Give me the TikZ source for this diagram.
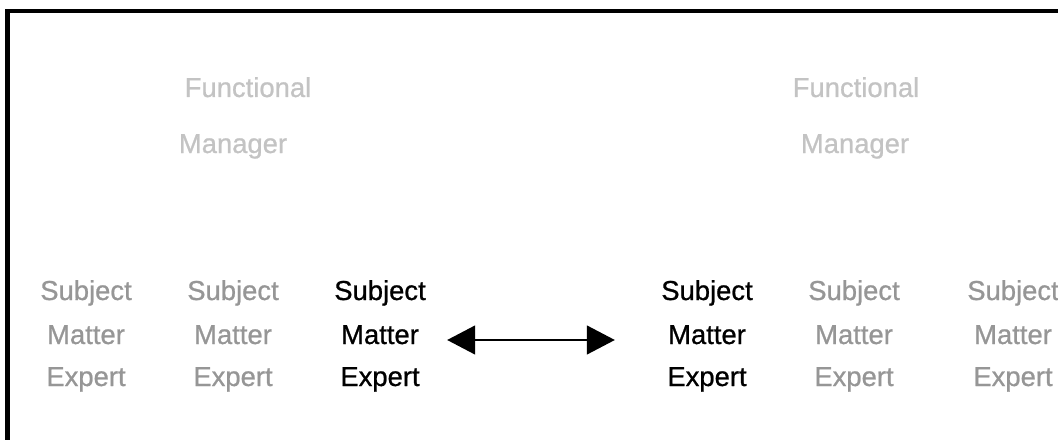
\documentclass[tikz,border=0pt]{standalone}
\usepackage{fontspec}
\setmainfont{Liberation Sans}[FakeBold=0.8,AutoFakeBold=0.8]
\usetikzlibrary{arrows.meta}
\definecolor{smegray}{RGB}{150,150,150}
\definecolor{mgrgray}{RGB}{195,195,195}

\begin{document}
\begin{tikzpicture}[x=0.025cm,y=-0.025cm,
    word/.style={anchor=base,inner sep=0pt,font=\fontsize{19.5}{23}\selectfont\bfseries},
    arr/.style={{Triangle[length=0.7cm,width=0.72cm]}-{Triangle[length=0.7cm,width=0.72cm]},line width=1.4pt}]
  \useasboundingbox (0,0) rectangle (1058,440);
  \clip (0,0) rectangle (1058,440);
  \draw[line width=3.2pt] (7.5,460) -- (7.5,11) -- (1080,11);
  % functional managers
  \node[word,text=mgrgray] (fnL) at (248,97) {Functional};
  \node[word,text=mgrgray] (mgL) at (233,153) {Manager};
  \node[word,text=mgrgray] (fnR) at (856,97) {Functional};
  \node[word,text=mgrgray] (mgR) at (855,153) {Manager};
  % subject matter experts
  \foreach \i/\x/\c in {1/86/smegray,2/233/smegray,3/380/black,4/707/black,5/854/smegray,6/1013/smegray} {
    \node[word,text=\c] (s\i) at (\x,300) {Subject};
    \node[word,text=\c] (m\i) at (\x,344) {Matter};
    \node[word,text=\c] (e\i) at (\x,386) {Expert};
  }
  \draw[arr] ([xshift=0.7cm,yshift=0.1cm]m3.base east) -- ([xshift=-1.325cm,yshift=0.1cm]m4.base west);
\end{tikzpicture}
\end{document}
